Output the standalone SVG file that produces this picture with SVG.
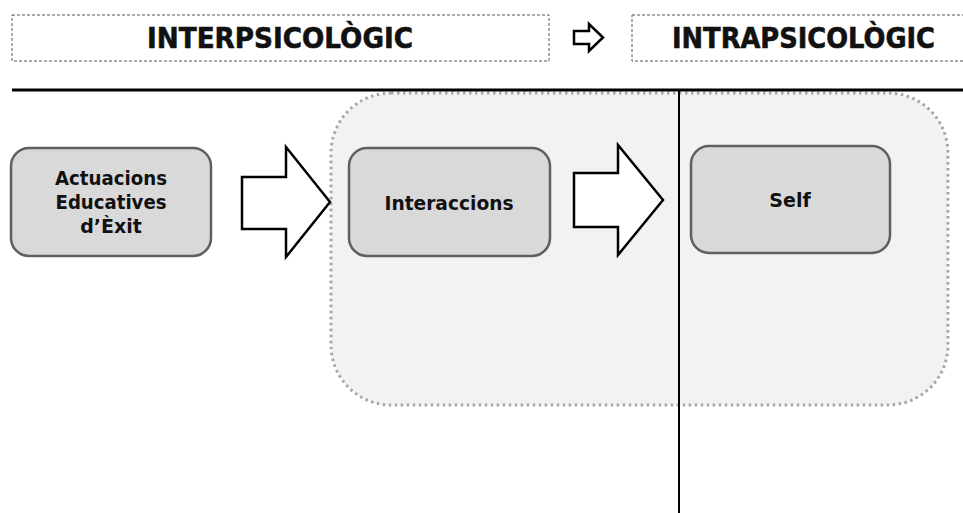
<svg xmlns="http://www.w3.org/2000/svg" width="963" height="513" viewBox="0 0 963 513">
<defs>
<style>
.hdr{fill:#fff;stroke:#555;stroke-width:1;stroke-dasharray:3 2}
.hdrt{font-family:"DejaVu Sans",Verdana,sans-serif;font-weight:bold;font-size:28px;fill:#111;stroke:#111;stroke-width:0.6;text-anchor:middle}
.node{fill:#d9d9d9;stroke:#5f5f5f;stroke-width:2.5}
.nt{font-family:"DejaVu Sans",Verdana,sans-serif;font-weight:bold;font-size:19px;fill:#111;text-anchor:middle}
.blk{fill:#fff;stroke:#000;stroke-width:2.5;stroke-linejoin:miter}
</style>
</defs>
<rect width="963" height="513" fill="#fff"/>
<g id="region">
<rect x="331" y="93" width="617" height="312" rx="60" ry="60" fill="#f2f2f2" stroke="#a6a6a6" stroke-width="3" stroke-dasharray="2.5 3.5"/>
</g>
<g id="header-inter">
<rect class="hdr" x="12" y="15" width="537" height="46"/>
<text class="hdrt" x="280" y="48" textLength="266" lengthAdjust="spacingAndGlyphs">INTERPSICOLÒGIC</text>
</g>
<g id="header-arrow">
<path class="blk" stroke-width="2" d="M574 31 H589 V24 L603 37.5 L589 51 V44 H574 Z"/>
</g>
<g id="header-intra">
<rect class="hdr" x="632" y="15" width="340" height="46"/>
<text class="hdrt" x="803.5" y="48" textLength="263" lengthAdjust="spacingAndGlyphs">INTRAPSICOLÒGIC</text>
</g>
<g id="axes">
<line x1="12" y1="90" x2="963" y2="90" stroke="#000" stroke-width="3"/>
<line x1="679" y1="90" x2="679" y2="513" stroke="#000" stroke-width="2"/>
</g>
<g id="connectors">
<path class="blk" d="M242 177 H286 V147 L330 202 L286 257 V229 H242 Z"/>
<path class="blk" d="M574 173 H618 V145 L663 200 L618 255 V227 H574 Z"/>
</g>
<g id="node-actuacions">
<rect class="node" x="11" y="148" width="200" height="108" rx="18" ry="18"/>
<text class="nt" x="111" y="185" textLength="112" lengthAdjust="spacingAndGlyphs">Actuacions</text>
<text class="nt" x="111" y="209" textLength="111" lengthAdjust="spacingAndGlyphs">Educatives</text>
<text class="nt" x="111" y="233">d’Èxit</text>
</g>
<g id="node-interaccions">
<rect class="node" x="349" y="148" width="201" height="108" rx="18" ry="18"/>
<text class="nt" x="449" y="210" textLength="129" lengthAdjust="spacingAndGlyphs">Interaccions</text>
</g>
<g id="node-self">
<rect class="node" x="691" y="146" width="199" height="107" rx="18" ry="18"/>
<text class="nt" x="790" y="207">Self</text>
</g>
</svg>
